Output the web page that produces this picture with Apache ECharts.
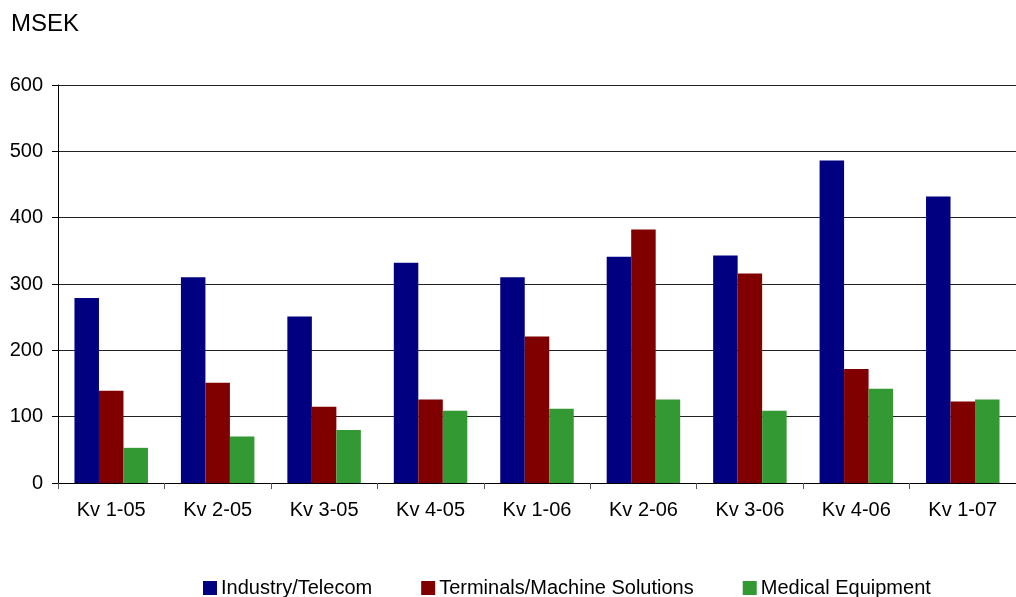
<!DOCTYPE html>
<html>
<head>
<meta charset="utf-8">
<script src="https://cdn.jsdelivr.net/npm/echarts@6/dist/echarts.min.js"></script>
<style>
html,body{margin:0;padding:0;background:#fff;}
#chart{width:1016px;height:597px;}
</style>
</head>
<body>
<div id="chart"></div>
<script>
const categories = ["Kv 1-05","Kv 2-05","Kv 3-05","Kv 4-05","Kv 1-06","Kv 2-06","Kv 3-06","Kv 4-06","Kv 1-07"];
const industryTelecom = [279, 310, 251, 332, 310, 341, 343, 486, 432];
const terminalsMachine = [139, 151, 115, 126, 221, 382, 316, 172, 123];
const medicalEquipment = [53, 70, 80, 109, 112, 126, 109, 142, 126];
const seriesNames = ["Industry/Telecom", "Terminals/Machine Solutions", "Medical Equipment"];
const colors = ["#000080", "#800000", "#339933"];

const chart = echarts.init(document.getElementById('chart'), null, {renderer: 'canvas'});
const font = 'Arial, "Liberation Sans", sans-serif';
const option = {
  animation: false,
  backgroundColor: '#ffffff',
  title: {
    text: 'MSEK',
    left: 6, top: 7,
    textStyle: {fontFamily: font, fontSize: 24, fontWeight: 'normal', color: '#000'}
  },
  legend: {
    left: 203, top: 578, padding: 0,
    itemWidth: 14, itemHeight: 14, itemGap: 49,
    icon: 'rect',
    textStyle: {fontFamily: font, fontSize: 20, lineHeight: 14, color: '#000', padding: [0,0,0,-1]},
    data: seriesNames
  },
  grid: {left: 58, top: 85, width: 969, height: 398, containLabel: false},
  xAxis: {
    type: 'category',
    data: categories,
    axisLine: {lineStyle: {color: '#000', width: 1}},
    axisTick: {show: true, length: 6, alignWithLabel: false, lineStyle: {color: '#555'}},
    axisLabel: {fontFamily: font, fontSize: 20, color: '#000', margin: 17, interval: 0},
    splitLine: {show: false}
  },
  yAxis: {
    type: 'value',
    min: 0, max: 600, interval: 100,
    axisLine: {show: true, lineStyle: {color: '#000', width: 1}},
    axisTick: {show: true, length: 6, lineStyle: {color: '#000'}},
    axisLabel: {fontFamily: font, fontSize: 20, color: '#000', margin: 15},
    splitLine: {show: true, lineStyle: {color: '#222', width: 1}}
  },
  series: [
    {name: seriesNames[0], type: 'bar', data: industryTelecom, barWidth: 24.5, barGap: '0%', itemStyle: {color: colors[0]}},
    {name: seriesNames[1], type: 'bar', data: terminalsMachine, barWidth: 24.5, barGap: '0%', itemStyle: {color: colors[1]}},
    {name: seriesNames[2], type: 'bar', data: medicalEquipment, barWidth: 24.5, barGap: '0%', itemStyle: {color: colors[2]}}
  ]
};
chart.setOption(option);
</script>
</body>
</html>
